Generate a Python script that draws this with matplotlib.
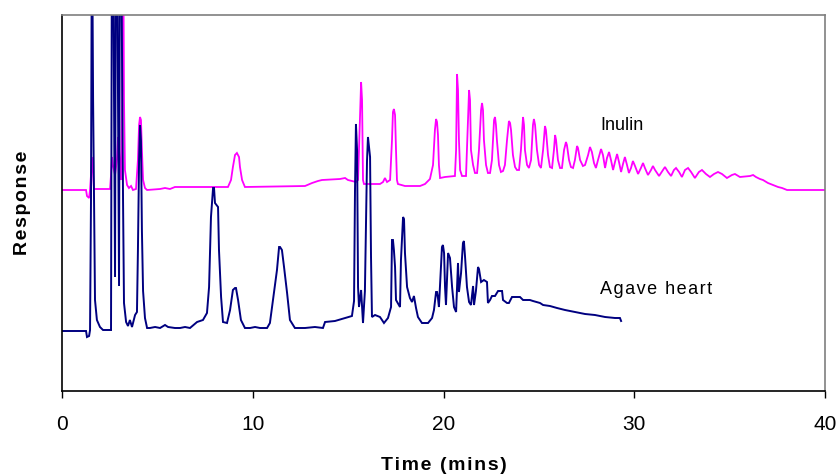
import matplotlib
matplotlib.use("Agg")
import matplotlib.pyplot as plt
from matplotlib import font_manager

# ---------------- data (time in minutes, response in arbitrary units) ----------------
inulin_time = [
    0.00, 1.26, 1.31, 1.42, 1.47, 1.52, 1.57, 1.63, 1.68, 2.52, 2.57, 2.62, 2.67, 2.78, 2.88,
    2.94, 2.99, 3.04, 3.09, 3.15, 3.20, 3.25, 3.30, 3.41, 3.51, 3.62, 3.72, 3.88, 3.98, 4.04,
    4.09, 4.14, 4.19, 4.25, 4.35, 4.46, 5.14, 5.40, 5.66, 5.92, 6.19, 8.70, 8.86, 8.96, 9.07,
    9.17, 9.28, 9.33, 9.44, 9.59, 12.74, 13.11, 13.42, 13.63, 14.57, 14.84, 14.99, 15.41, 15.52,
    15.62, 15.68, 15.73, 15.78, 15.83, 16.67, 16.83, 16.93, 17.04, 17.20, 17.30, 17.35, 17.40,
    17.46, 17.51, 17.56, 17.61, 17.98, 18.77, 19.03, 19.29, 19.45, 19.55, 19.61, 19.66, 19.71,
    19.76, 19.82, 20.08, 20.60, 20.66, 20.71, 20.76, 20.81, 20.87, 20.97, 21.18, 21.23, 21.34,
    21.39, 21.44, 21.55, 21.65, 21.76, 21.86, 21.97, 22.02, 22.07, 22.12, 22.23, 22.33, 22.44,
    22.54, 22.65, 22.70, 22.75, 22.80, 22.91, 23.01, 23.12, 23.22, 23.33, 23.43, 23.49, 23.54,
    23.64, 23.75, 23.85, 23.96, 24.06, 24.17, 24.22, 24.27, 24.38, 24.48, 24.59, 24.69, 24.74,
    24.80, 24.90, 25.01, 25.11, 25.22, 25.32, 25.37, 25.48, 25.58, 25.69, 25.79, 25.85, 25.90,
    26.00, 26.11, 26.21, 26.32, 26.42, 26.47, 26.58, 26.68, 26.79, 26.89, 27.00, 27.05, 27.16,
    27.31, 27.42, 27.58, 27.68, 27.78, 27.89, 27.99, 28.10, 28.26, 28.36, 28.47, 28.57, 28.68,
    28.78, 28.89, 28.99, 29.10, 29.20, 29.31, 29.41, 29.51, 29.62, 29.72, 29.83, 29.93, 30.04,
    30.20, 30.35, 30.46, 30.56, 30.72, 30.88, 30.98, 31.09, 31.30, 31.51, 31.61, 31.77, 31.93,
    32.08, 32.19, 32.35, 32.50, 32.66, 32.82, 32.98, 33.18, 33.39, 33.55, 33.76, 33.97, 34.18,
    34.39, 34.60, 34.86, 35.12, 35.28, 35.54, 36.07, 36.23, 36.38, 36.59, 36.75, 37.01, 37.27,
    37.54, 37.75, 38.01, 40.00,
]
inulin_resp = [
    201, 201, 195, 193, 201, 216, 234, 216, 202, 202, 216, 234, 226, 216, 231,
    254, 241, 221, 211, 291, 491, 291, 221, 206, 203, 205, 201, 202, 231, 266,
    274, 271, 241, 211, 203, 201, 202, 203, 202, 204, 204, 204, 211, 224, 236,
    238, 234, 224, 211, 204, 205, 208, 210, 211, 212, 213, 211, 209, 211,
    271, 309, 291, 211, 207, 207, 209, 213, 209, 211, 251, 279, 282,
    276, 241, 211, 207, 205, 205, 207, 212, 226, 261, 272, 269, 256,
    226, 213, 214, 215, 241, 317, 301, 251, 221, 215, 215, 241, 301,
    291, 241, 226, 218, 218, 241, 281, 288, 281, 251, 226, 218, 218,
    231, 271, 274, 266, 251, 226, 219, 220, 226, 251, 270, 268, 261,
    236, 224, 221, 221, 241, 274, 266, 241, 226, 223, 231, 266, 272,
    266, 241, 226, 223, 241, 265, 261, 236, 224, 223, 241, 256, 251,
    231, 223, 223, 241, 249, 246, 231, 224, 223, 231, 245, 243, 231,
    225, 226, 236, 244, 239, 228, 223, 231, 242, 236, 223, 233, 239,
    231, 221, 229, 237, 229, 219, 227, 234, 226, 218, 223, 230, 225,
    217, 223, 228, 223, 216, 221, 225, 221, 215, 221, 224, 219, 215,
    221, 223, 219, 214, 221, 223, 219, 213, 219, 221, 217, 214, 217,
    219, 217, 213, 216, 217, 214, 215, 216, 214, 212, 211, 208, 206,
    204, 203, 201, 201,
]

agave_time = [
    0.00, 1.26, 1.31, 1.42, 1.47, 1.52, 1.57, 1.63, 1.73, 1.83, 1.99, 2.15, 2.52, 2.57, 2.62,
    2.67, 2.78, 2.83, 2.88, 2.99, 3.04, 3.09, 3.20, 3.25, 3.36, 3.46, 3.56, 3.67, 3.83, 3.93,
    3.98, 4.04, 4.09, 4.14, 4.19, 4.25, 4.35, 4.46, 4.61, 4.88, 5.14, 5.40, 5.56, 5.92, 6.19,
    6.45, 6.71, 7.08, 7.39, 7.60, 7.71, 7.81, 7.92, 7.97, 8.02, 8.18, 8.23, 8.34, 8.44, 8.65,
    8.81, 8.96, 9.07, 9.12, 9.23, 9.38, 9.59, 9.86, 10.12, 10.38, 10.75, 10.90, 11.11, 11.27,
    11.38, 11.43, 11.53, 11.64, 11.80, 11.95, 12.21, 12.74, 13.26, 13.68, 13.79, 14.31, 14.84,
    15.20, 15.31, 15.36, 15.41, 15.47, 15.52, 15.57, 15.68, 15.78, 15.88, 15.99, 16.04, 16.09,
    16.15, 16.20, 16.25, 16.41, 16.67, 16.88, 17.09, 17.25, 17.30, 17.35, 17.40, 17.46, 17.51,
    17.72, 17.77, 17.88, 17.93, 17.98, 18.09, 18.24, 18.35, 18.45, 18.56, 18.66, 18.87, 19.19,
    19.40, 19.50, 19.61, 19.66, 19.71, 19.76, 19.87, 19.92, 19.97, 20.03, 20.08, 20.13, 20.24,
    20.34, 20.45, 20.55, 20.66, 20.76, 20.81, 20.92, 21.02, 21.07, 21.13, 21.23, 21.34, 21.44,
    21.55, 21.60, 21.70, 21.81, 21.86, 21.97, 22.12, 22.28, 22.33, 22.44, 22.54, 22.70, 22.86,
    23.07, 23.12, 23.33, 23.43, 23.59, 24.01, 24.17, 24.53, 24.69, 25.06, 25.22, 25.58, 25.95,
    26.37, 26.89, 27.42, 27.94, 28.47, 28.99, 29.25, 29.31,
]
agave_resp = [
    60, 60, 54, 55, 61, 191, 491, 291, 91, 71, 64, 61, 61, 61, 491,
    491, 114, 491, 491, 105, 491, 491, 191, 88, 69, 65, 71, 64, 76, 79,
    140, 230, 266, 250, 160, 100, 73, 63, 63, 64, 63, 66, 64, 63, 63,
    64, 63, 69, 71, 78, 104, 174, 203, 203, 188, 184, 141, 94, 69, 68,
    81, 101, 103, 103, 91, 71, 63, 63, 64, 63, 63, 68, 98, 121,
    144, 144, 141, 124, 98, 71, 63, 63, 64, 63, 69, 70, 73,
    75, 90, 200, 267, 240, 104, 84, 101, 68, 100, 230, 254, 245,
    234, 134, 74, 76, 74, 68, 73, 84, 151, 151, 141, 124, 91,
    84, 131, 174, 172, 138, 104, 93, 89, 95, 83, 74, 68, 68,
    73, 81, 99, 99, 93, 84, 124, 144, 146, 138, 104, 86, 138,
    133, 104, 84, 79, 128, 99, 118, 148, 150, 134, 104, 89, 86,
    105, 86, 100, 124, 122, 109, 111, 109, 88, 91, 95, 95, 100,
    100, 91, 88, 88, 94, 94, 91, 91, 90, 88, 86, 85, 83,
    81, 79, 77, 76, 74, 73, 73, 70,
]

x_ticks = [0, 10, 20, 30, 40]
series_labels = ["Inulin", "Agave heart"]


def spaced(s, gap="\u200a"):
    """Letter-spaced text (as in the reference typography)."""
    return gap.join(list(s))


# ---------------- figure ----------------
avail = {f.name for f in font_manager.fontManager.ttflist}
narrow = "Liberation Sans Narrow" if "Liberation Sans Narrow" in avail else "Liberation Sans"

fig = plt.figure(figsize=(8.4, 4.75), dpi=100)
ax = fig.add_axes([62 / 840, 1 - 391 / 475, (825 - 62) / 840, (391 - 15) / 475])

ax.plot(inulin_time, inulin_resp, color="#FF00FF", lw=1.3, solid_joinstyle="miter")
ax.plot(agave_time, agave_resp, color="#000080", lw=1.4, solid_joinstyle="miter")

ax.set_xlim(0, 40)
ax.set_ylim(0, 376)
ax.set_xticks(x_ticks)
ax.set_xticklabels([str(t) for t in x_ticks], fontfamily=narrow, fontsize=15)
ax.set_yticks([])
ax.tick_params(axis="x", direction="out", length=5, width=1, pad=12, color="black")

for side in ("left", "bottom"):
    ax.spines[side].set_color("black")
    ax.spines[side].set_linewidth(1.2)
for side in ("top", "right"):
    ax.spines[side].set_color("#7f7f7f")
    ax.spines[side].set_linewidth(1.2)

ax.set_xlabel(spaced("Time (mins)"), fontfamily="Liberation Sans", fontweight="bold",
              fontsize=14, labelpad=17)
ax.set_ylabel(spaced("Response"), fontfamily="Liberation Sans", fontweight="bold",
              fontsize=14, labelpad=22)

ax.text(28.2, 266, series_labels[0], fontfamily="Liberation Sans", fontsize=13,
        ha="left", va="center")
ax.text(28.2, 101, spaced(series_labels[1]), fontfamily="Liberation Sans",
        fontsize=13, ha="left", va="center")

fig.savefig("out.png", dpi=100)
